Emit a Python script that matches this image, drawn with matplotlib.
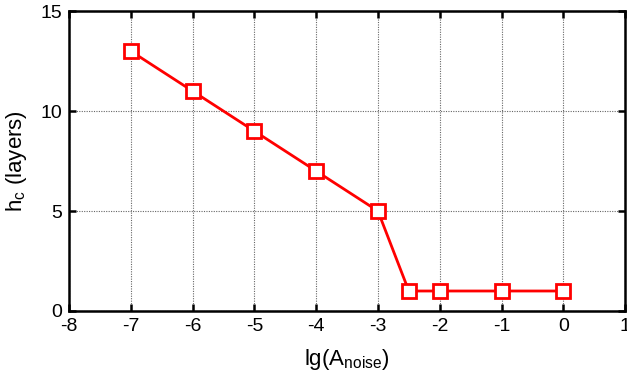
import matplotlib
matplotlib.use("Agg")
import matplotlib.pyplot as plt

plt.rcParams['font.family'] = ['Liberation Sans', 'DejaVu Sans']
plt.rcParams['mathtext.default'] = 'regular'
plt.rcParams['axes.unicode_minus'] = False

lg_noise = [-7, -6, -5, -4, -3, -2.5, -2, -1, 0]
hc = [13, 11, 9, 7, 5, 1, 1, 1, 1]
xticks = [-8, -7, -6, -5, -4, -3, -2, -1, 0, 1]
yticks = [0, 5, 10, 15]

fig = plt.figure(figsize=(6.27, 3.83), dpi=100)
ax = fig.add_axes([0.110, 0.188, 0.887, 0.783])

ax.plot(lg_noise, hc, color='#ff0000', lw=2.0, marker='s', ms=9.5,
        mfc='white', mec='#ff0000', mew=2.0, zorder=3)

ax.set_xlim(-8, 1)
ax.set_ylim(0, 15)
ax.set_xticks(xticks)
ax.set_yticks(yticks)
ax.grid(True, color='#666666', linestyle=(0, (1, 1.2)), linewidth=0.8)
ax.tick_params(direction='in', length=5, width=1.8, labelsize=14,
               top=True, right=True, pad=5)
for s in ax.spines.values():
    s.set_linewidth(1.8)

ax.set_xlabel('lg(A$_{noise}$)', fontsize=16, labelpad=9)
ax.set_ylabel('h$_c$ (layers)', fontsize=16, labelpad=8)

fig.savefig('out.png', dpi=100)
